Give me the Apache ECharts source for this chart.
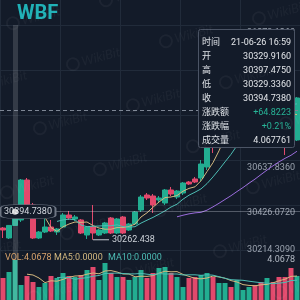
<!DOCTYPE html>
<html><head><meta charset="utf-8">
<script src="https://cdn.jsdelivr.net/npm/echarts@6/dist/echarts.min.js"></script>
<style>html,body{margin:0;padding:0;background:#131b29;}#c{width:300px;height:300px;}</style>
</head><body><div id="c"></div>
<script>
const dateLabel = '21-06-26';
const times = ['16:57','16:58','16:59','17:00','17:01','17:02','17:03','17:04','17:05','17:06',
 '17:07','17:08','17:09','17:10','17:11','17:12','17:13','17:14','17:15','17:16',
 '17:17','17:18','17:19','17:20','17:21','17:22','17:23','17:24','17:25','17:26',
 '17:27','17:28','17:29','17:30','17:31','17:32','17:33','17:34','17:35','17:36',
 '17:37','17:38','17:39','17:40','17:41','17:42','17:43','17:44','17:45','17:46'];
const opens = [30317.8, 30270.8, 30329.916, 30355.5, 30543.7, 30426.1, 30270.8, 30299.0, 30322.5, 30299.0,
 30322.5, 30379.0, 30360.2, 30355.5, 30284.9, 30322.5, 30284.9, 30294.3, 30364.9, 30294.3,
 30369.6, 30308.4, 30336.7, 30402.5, 30473.1, 30468.4, 30449.6, 30435.5, 30496.7, 30463.7,
 30482.5, 30534.3, 30548.4, 30553.1, 30604.9, 30788.4, 30732.0, 30802.5, 30859.0, 30835.5,
 30901.4, 30943.7, 30976.7, 30948.4, 30929.6, 30943.7, 30896.7, 30863.7, 30835.5, 30732.0];
const closes = [30308.4, 30329.9157, 30394.738, 30543.7, 30402.5, 30270.8, 30299.0, 30322.5, 30303.7, 30313.1,
 30379.0, 30364.9, 30369.6, 30294.3, 30322.5, 30294.3, 30308.4, 30341.4, 30294.3, 30360.2,
 30294.3, 30336.7, 30393.1, 30463.7, 30459.0, 30426.1, 30459.0, 30496.7, 30477.8, 30492.0,
 30529.6, 30524.9, 30534.3, 30619.0, 30708.4, 30741.4, 30802.5, 30859.0, 30835.5, 30901.4,
 30943.7, 30976.7, 30948.4, 30939.0, 30953.1, 30896.7, 30863.7, 30835.5, 30732.0, 30929.6];
const lows = [30270.8, 30266.1, 30329.336, 30346.1, 30393.1, 30266.1, 30266.1, 30294.3, 30299.0, 30284.9,
 30317.8, 30355.5, 30350.8, 30289.6, 30266.1, 30262.438, 30280.2, 30289.6, 30289.6, 30289.6,
 30289.6, 30303.7, 30332.0, 30393.1, 30449.6, 30388.4, 30435.5, 30426.1, 30468.4, 30454.3,
 30473.1, 30520.2, 30529.6, 30539.0, 30590.8, 30670.8, 30717.8, 30793.1, 30826.1, 30821.4,
 30892.0, 30934.3, 30939.0, 30920.2, 30924.9, 30882.5, 30849.6, 30661.4, 30722.5, 30727.2];
const highs = [30322.5, 30332.0, 30397.475, 30548.4, 30553.1, 30435.5, 30303.7, 30379.0, 30355.5, 30317.8,
 30388.4, 30397.8, 30379.0, 30360.2, 30327.3, 30426.1, 30313.1, 30346.1, 30369.6, 30364.9,
 30374.3, 30341.4, 30397.8, 30473.1, 30482.5, 30477.8, 30468.4, 30501.4, 30510.8, 30496.7,
 30534.3, 30539.0, 30557.8, 30637.8, 30727.2, 30807.2, 30816.7, 30873.1, 30877.8, 30920.2,
 30957.8, 30990.8, 30986.1, 30967.2, 30967.2, 30953.1, 30906.1, 30873.1, 30849.6, 30934.3];
const volumes = [2.237, 2.847, 4.067761, 1.525, 2.441, 1.830, 1.322, 1.729, 2.441, 2.237,
 2.746, 2.441, 2.339, 2.542, 3.051, 3.356, 2.034, 3.763, 2.746, 2.339,
 2.339, 2.034, 2.339, 3.051, 2.237, 2.746, 3.254, 3.356, 2.746, 2.339,
 1.322, 2.237, 2.339, 2.542, 2.746, 2.339, 1.729, 1.729, 1.322, 2.034,
 1.017, 1.322, 1.525, 1.830, 2.237, 1.830, 2.339, 2.339, 3.254, 2.441];
const priceTicks = ['30214.3090','30426.0720','30637.8360','30849.5990','31061.3630','31273.1260'];
const priceMin = 30214.309, priceInterval = 211.7635;
const lastPrice = 30873.1;
const crossIndex = 2;

const UP = '#22ad91', DOWN = '#e2496c';
const GRID = '#212b3a', BG = '#131b29';
const C_MA5 = '#d3b87f', C_MA10 = '#4dbdb4', C_MA30 = '#9a6cdc';
const FONT = 'Roboto, "Noto Sans CJK SC", sans-serif';

function ma(arr, n) {
  return arr.map((v, i) => {
    if (i < n - 1) return '-';
    let s = 0;
    for (let j = i - n + 1; j <= i; j++) s += arr[j];
    return +(s / n).toFixed(4);
  });
}
const candleData = times.map((t, i) => [opens[i], closes[i], lows[i], highs[i]]);
const volMax = Math.max(...volumes);
const lowMin = Math.min(...lows);
const priceMax = priceMin + priceInterval * (priceTicks.length - 1);

const chg = closes[crossIndex] - closes[crossIndex - 1];
const pct = chg / closes[crossIndex - 1] * 100;
const sgn = chg >= 0 ? '+' : '';
const tipLabels = ['时间','开','高','低','收','涨跌额','涨跌幅','成交量'];
const tipValues = [dateLabel + ' ' + times[crossIndex], opens[crossIndex].toFixed(4), highs[crossIndex].toFixed(4),
  lows[crossIndex].toFixed(4), closes[crossIndex].toFixed(4), sgn + chg.toFixed(4), sgn + pct.toFixed(2) + '%',
  volumes[crossIndex].toFixed(6)];

const chart = echarts.init(document.getElementById('c'), null, {renderer: 'canvas'});

const TZ = 100;
const tipEls = [{type:'rect', z:TZ, silent:true, shape:{x:198.5, y:29.5, width:96, height:118, r:2}, style:{fill:BG, stroke:'#4b5465', lineWidth:1}}];
tipLabels.forEach((l, i) => {
  const y = 43 + i * 14;
  tipEls.push({type:'text', z:TZ + 1, silent:true, x:202, y:y, style:{text:l, fill:'#dfe3e8', fontSize:9, fontFamily:FONT, textAlign:'left', align:'left', textVerticalAlign:'middle', verticalAlign:'middle'}});
  tipEls.push({type:'text', z:TZ + 1, silent:true, x:291, y:y, style:{text:tipValues[i], fill: (i===5||i===6) ? '#27b497' : '#e3e6ea', fontSize:9, fontFamily:FONT, textAlign:'right', align:'right', textVerticalAlign:'middle', verticalAlign:'middle'}});
});

const wm = 'rgba(255,255,255,0.045)';
const wmEls = [];
for (let m = -2; m <= 4; m++) for (let n = -1; n <= 5; n++) {
  const x = 100 + m * 93 - n * 33, y = 57 - m * 23 + n * 64;
  if (x < -40 || x > 350 || y < -20 || y > 320) continue;
  wmEls.push({type:'group', x:x, y:y, rotation:0.26, silent:true, children:[
    {type:'circle', z:200, shape:{cx:-28, cy:0, r:6}, style:{fill:'none', stroke:wm, lineWidth:2}},
    {type:'text', z:200, x:-19, y:0, style:{text:'WikiBit', fill:wm, fontSize:13, fontFamily:'Lato, sans-serif', fontStyle:'italic', textVerticalAlign:'middle', verticalAlign:'middle'}}
  ]});
}

const xBase = {type:'category', data:times, boundaryGap:true, axisLine:{show:false}, axisTick:{show:false}, axisLabel:{show:false},
  splitLine:{show:true, interval:9, lineStyle:{color:GRID, width:1}}};

const option = {
  backgroundColor: BG,
  animation: false,
  grid: [
    {left:0, right:0, top:25, height:225},
    {left:0, right:0, top:250, height:50},
    {left:0, right:0, top:0, height:25}
  ],
  xAxis: [
    Object.assign({gridIndex:0}, xBase),
    Object.assign({gridIndex:1}, xBase),
    Object.assign({gridIndex:2}, xBase)
  ],
  yAxis: [
    {gridIndex:0, type:'value', position:'right', min:priceMin, max:priceMax, interval:priceInterval, scale:true,
     axisLine:{show:false}, axisTick:{show:false}, splitLine:{show:true, lineStyle:{color:GRID}},
     axisLabel:{inside:true, margin:5, color:'#9aa2ae', fontSize:9, fontFamily:FONT, verticalAlign:'top', padding:[3,0,0,0],
       formatter:(v) => { const k = Math.round((v - priceMin) / priceInterval); return k === 0 ? '' : (priceTicks[k] || ''); }}},
    {gridIndex:0, type:'value', position:'right', min:priceMin, max:priceMax, interval:priceInterval, scale:true,
     axisLine:{show:false}, axisTick:{show:false}, splitLine:{show:false},
     axisLabel:{inside:true, margin:5, color:'#9aa2ae', fontSize:9, fontFamily:FONT, verticalAlign:'middle', padding:[0,0,6,0],
       formatter:(v) => { const k = Math.round((v - priceMin) / priceInterval); return k === 0 ? priceTicks[0] : ''; }}},
    {gridIndex:1, type:'value', position:'right', min:0, max:volMax * 1.25, interval:volMax * 1.25 / 5,
     axisLine:{show:false}, axisTick:{show:false}, splitLine:{show:false},
     axisLabel:{inside:true, margin:5, color:'#b3bac4', fontSize:9, fontFamily:FONT, verticalAlign:'middle', padding:[0,0,4,0],
       formatter:(v) => Math.abs(v - volMax) < 1e-3 ? volMax.toFixed(4) : ''}},
    {gridIndex:2, type:'value', show:false}
  ],
  series: [
    {type:'candlestick', name:'K', xAxisIndex:0, yAxisIndex:0, data:candleData, barWidth:5,
     itemStyle:{color:UP, color0:DOWN, borderColor:UP, borderColor0:DOWN, borderWidth:1},
     markLine:{silent:true, animation:false, symbol:['none','none'], label:{show:false},
       data:[
         {xAxis: times[crossIndex], lineStyle:{color:'rgba(255,255,255,0.14)', width:5, type:'solid'}},
         {yAxis: closes[crossIndex], lineStyle:{color:'rgba(220,225,235,0.32)', width:1, type:'solid'}},
         {yAxis: lastPrice, lineStyle:{color:'#7e8795', width:1, type:[4,3]}}
       ]},
     markPoint:{silent:true, animation:false,
       data:[
         {type:'min', valueDim:'lowest', symbol:'rect', symbolSize:[16,1], symbolOffset:[8,0], itemStyle:{color:'#c3c8d0'},
          label:{show:true, position:'right', distance:3, color:'#cdd2d9', fontSize:9, fontFamily:FONT, formatter:() => lowMin.toFixed(3)}},
         {coord:[times[crossIndex], closes[crossIndex]], symbol:'roundRect', symbolSize:[55,14], symbolOffset:[13,0],
          itemStyle:{color:BG, borderColor:'#6e7684', borderWidth:1},
          label:{show:true, position:'inside', color:'#d6dbe2', fontSize:9, fontFamily:FONT, formatter:() => closes[crossIndex].toFixed(4)}}
       ]}
    },
    {type:'line', name:'MA5', xAxisIndex:0, yAxisIndex:0, data:ma(closes,5), symbol:'none', silent:true, lineStyle:{width:1, color:C_MA5}, itemStyle:{color:C_MA5}},
    {type:'line', name:'MA10', xAxisIndex:0, yAxisIndex:0, data:ma(closes,10), symbol:'none', silent:true, lineStyle:{width:1, color:C_MA10}, itemStyle:{color:C_MA10}},
    {type:'line', name:'MA30', xAxisIndex:0, yAxisIndex:0, data:ma(closes,30), symbol:'none', silent:true, lineStyle:{width:1, color:C_MA30}, itemStyle:{color:C_MA30}},
    {type:'scatter', xAxisIndex:0, yAxisIndex:0, data:[[times[crossIndex], closes[crossIndex]]], symbolSize:6, z:10, silent:true, itemStyle:{color:'#ffffff'}},
    {type:'bar', name:'VOL', xAxisIndex:1, yAxisIndex:2, barWidth:5,
     data: volumes.map((v, i) => ({value:v, itemStyle:{color: closes[i] >= opens[i] ? UP : DOWN}})),
     markLine:{silent:true, animation:false, symbol:['none','none'], label:{show:false},
       data:[{xAxis: times[crossIndex], lineStyle:{color:'rgba(255,255,255,0.14)', width:5, type:'solid'}}]}},
    {type:'line', name:'VMA5', xAxisIndex:1, yAxisIndex:2, data:ma(volumes,5), symbol:'none', silent:true, z:5, lineStyle:{width:1, color:C_MA5}},
    {type:'line', name:'VMA10', xAxisIndex:1, yAxisIndex:2, data:ma(volumes,10), symbol:'none', silent:true, z:5, lineStyle:{width:1, color:C_MA10}},
    {type:'line', xAxisIndex:2, yAxisIndex:3, data:[], symbol:'none', silent:true}
  ],
  graphic: [
    {type:'text', z:50, silent:true, x:17, y:14, style:{text:'WBF', fill:'#20b1b7', fontSize:20, fontWeight:'bold', fontFamily:'Roboto, sans-serif', textVerticalAlign:'middle', verticalAlign:'middle'}},
    {type:'text', z:50, silent:true, x:5, y:258, style:{text:'VOL:' + volumes[crossIndex].toFixed(4), fill:'#d9a46c', fontSize:9, fontFamily:FONT, textVerticalAlign:'middle', verticalAlign:'middle'}},
    {type:'text', z:50, silent:true, x:54, y:258, style:{text:'MA5:' + (crossIndex >= 4 ? ma(volumes,5)[crossIndex].toFixed(4) : '0.0000'), fill:C_MA5, fontSize:9, fontFamily:FONT, textVerticalAlign:'middle', verticalAlign:'middle'}},
    {type:'text', z:50, silent:true, x:108, y:258, style:{text:'MA10:' + (crossIndex >= 9 ? ma(volumes,10)[crossIndex].toFixed(4) : '0.0000'), fill:C_MA10, fontSize:9, fontFamily:FONT, textVerticalAlign:'middle', verticalAlign:'middle'}}
  ].concat(tipEls).concat(wmEls)
};
chart.setOption(option);
</script>
</body></html>
